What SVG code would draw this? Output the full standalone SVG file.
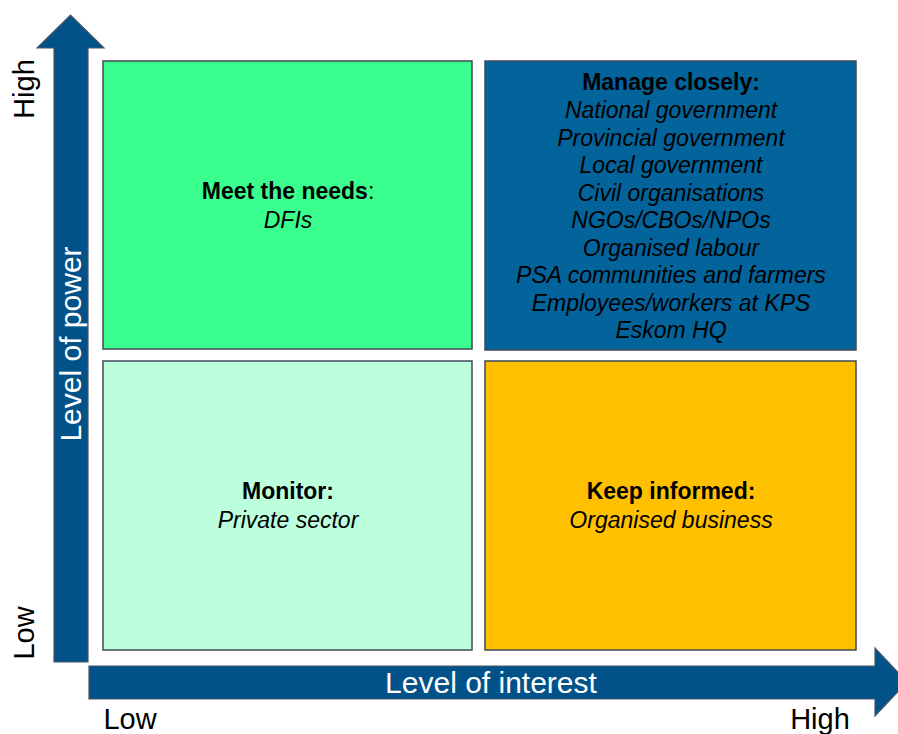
<svg xmlns="http://www.w3.org/2000/svg" width="898" height="734" viewBox="0 0 898 734">
<style>
.arrow{fill:#02528A;stroke:#4A5566;stroke-width:1.2}
.box{stroke:#404858;stroke-width:1.5}
.t{font-family:"Liberation Sans",Arial,sans-serif;text-anchor:middle}
.h{font-size:23px;font-weight:bold;fill:#000}
.i{font-size:23px;font-style:italic;fill:#000}
.ax{font-size:29px;fill:#000}
.axw{font-size:30px;fill:#fff}
</style>
<rect width="898" height="734" fill="#fff"/>
<g id="connectors">
<path class="arrow" d="M54,662 L54,48 L37,48 L70.5,15 L104,48 L88,48 L88,662 Z"/>
<path class="arrow" d="M89,666 L875,666 L875,648 L907,682 L875,716 L875,699 L89,699 Z"/>
</g>
<g id="axis-labels">
<text class="t axw" transform="translate(81,344) rotate(-90)">Level of power</text>
<text class="t axw" x="491" y="693">Level of interest</text>
<text class="t ax" transform="translate(34,89) rotate(-90)">High</text>
<text class="t ax" transform="translate(34,633) rotate(-90)">Low</text>
<text class="t ax" x="130" y="729">Low</text>
<text class="t ax" x="820" y="729">High</text>
</g>
<g id="meet-needs">
<rect class="box" x="103" y="61" width="369" height="288" fill="#3AFE8E"/>
<text class="t h" x="288" y="199">Meet the needs<tspan font-weight="normal">:</tspan></text>
<text class="t i" x="288" y="228">DFIs</text>
</g>
<g id="manage-closely">
<rect class="box" x="485" y="61" width="371" height="289" fill="#02649B"/>
<text class="t h" x="671" y="90">Manage closely:</text>
<text class="t i" x="671" y="118">National government</text>
<text class="t i" x="671" y="145.5">Provincial government</text>
<text class="t i" x="671" y="173">Local government</text>
<text class="t i" x="671" y="200.5">Civil organisations</text>
<text class="t i" x="671" y="228">NGOs/CBOs/NPOs</text>
<text class="t i" x="671" y="255.5">Organised labour</text>
<text class="t i" x="671" y="283">PSA communities and farmers</text>
<text class="t i" x="671" y="310.5">Employees/workers at KPS</text>
<text class="t i" x="671" y="338">Eskom HQ</text>
</g>
<g id="monitor">
<rect class="box" x="103" y="361" width="369" height="289" fill="#BBFFDD"/>
<text class="t h" x="288" y="499">Monitor:</text>
<text class="t i" x="288" y="528">Private sector</text>
</g>
<g id="keep-informed">
<rect class="box" x="485" y="361" width="371" height="289" fill="#FFC000"/>
<text class="t h" x="671" y="499">Keep informed:</text>
<text class="t i" x="671" y="528">Organised business</text>
</g>
</svg>
